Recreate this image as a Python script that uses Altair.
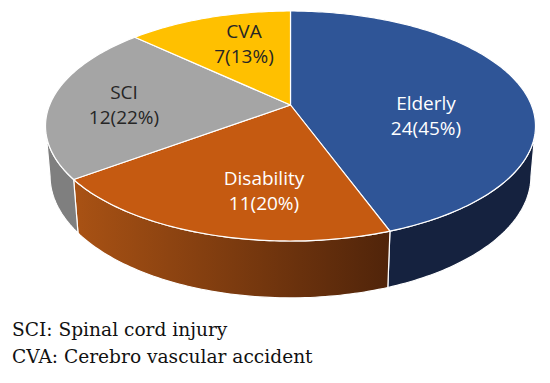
import numpy as np
import pandas as pd
import altair as alt

# ---------------- data ----------------
categories = ["Elderly", "Disability", "SCI", "CVA"]
counts = [24, 11, 12, 7]
percents = [45, 20, 22, 13]
notes = ["SCI: Spinal cord injury", "CVA: Cerebro vascular accident"]

# ---------------- style / layout ----------------
top_colors = ["#2F5597", "#C55A11", "#A5A5A5", "#FFC000"]
label_colors = ["#FFFFFF", "#FFFFFF", "#262626", "#262626"]
# position of the first label line (centre x, middle y)
label_pos = {"Elderly": (426, 104), "Disability": (264, 179),
             "SCI": (124, 93), "CVA": (244, 32)}
side_fill = {
    "Elderly": "#15223F",
    "Disability": alt.LinearGradient(
        gradient="linear", x1=0, x2=1, y1=0, y2=0,
        stops=[alt.GradientStop(offset=0, color="#A95214"),
               alt.GradientStop(offset=1, color="#50240A")]),
    "SCI": "#7F7F7F",
}
CX, CY = 290.5, 105.0   # projected centre of the pie top
FX, FY = 1319.0, 608.7  # perspective scale factors
DP = 5.476              # camera distance (in pie radii)
H = 274.0               # thickness factor
K = 0.1                 # depth shift of the bottom rim
W, HGT = 534, 367


def proj(t, bottom=False):
    u = np.sin(t)
    w = -np.cos(t)
    d = DP - w + (K if bottom else 0.0)
    x = CX + FX * u / d
    y = CY + FY * w / d + (H / d if bottom else 0.0)
    return x, y


total = sum(counts)
cum = np.cumsum([0] + counts)
starts = cum[:-1] / total * 2 * np.pi
ends = cum[1:] / total * 2 * np.pi
T_R = np.arccos(-1 / DP)
T_L = 2 * np.pi - T_R

top_rows, side_rows = [], []
for cat, a, b in zip(categories, starts, ends):
    n = max(2, int(np.degrees(b - a)) + 1)
    ts = np.linspace(a, b, n)
    xs, ys = proj(ts)
    pts = [(CX, CY)] + list(zip(xs, ys)) + [(CX, CY)]
    for i, (x, y) in enumerate(pts):
        top_rows.append(dict(cat=cat, i=i, x=x, y=y))
    lo, hi = max(a, T_R), min(b, T_L)
    if hi > lo:
        n = max(2, int(np.degrees(hi - lo)) + 1)
        ts = np.linspace(lo, hi, n)
        xt, yt = proj(ts)
        xb, yb = proj(ts[::-1], bottom=True)
        pts = list(zip(xt, yt)) + list(zip(xb, yb)) + [(xt[0], yt[0])]
        for i, (x, y) in enumerate(pts):
            side_rows.append(dict(cat=cat, i=i, x=x, y=y))

top_df = pd.DataFrame(top_rows)
side_df = pd.DataFrame(side_rows)

xs = alt.Scale(domain=[8, 8 + W], nice=False, zero=False)
ys = alt.Scale(domain=[8, 8 + HGT], nice=False, zero=False, reverse=True)
X = alt.X("x:Q", scale=xs, axis=None)
Y = alt.Y("y:Q", scale=ys, axis=None)

layers = []
for cat in categories:
    if cat not in side_fill:
        continue
    layers.append(
        alt.Chart(side_df[side_df.cat == cat])
        .mark_line(fill=side_fill[cat], stroke="#FFFFFF", strokeWidth=1.2,
                   strokeJoin="round")
        .encode(x=X, y=Y, order=alt.Order("i:Q"))
    )

top = (
    alt.Chart(top_df)
    .mark_line(stroke="#FFFFFF", strokeWidth=1.2, strokeJoin="round")
    .encode(
        x=X, y=Y, order=alt.Order("i:Q"), detail="cat:N",
        fill=alt.Fill("cat:N", scale=alt.Scale(domain=categories, range=top_colors),
                      legend=None),
    )
)
layers.append(top)

lab_df = pd.DataFrame({
    "cat": categories,
    "text": [f"{c}\n{n}({p}%)" for c, n, p in zip(categories, counts, percents)],
    "x": [label_pos[c][0] for c in categories],
    "y": [label_pos[c][1] for c in categories],
})
labels = (
    alt.Chart(lab_df)
    .mark_text(font="Open Sans", fontSize=19, lineBreak="\n", lineHeight=25,
               align="center", baseline="middle")
    .encode(x=X, y=Y, text="text:N",
            color=alt.Color("cat:N", scale=alt.Scale(domain=categories, range=label_colors),
                            legend=None))
)
layers.append(labels)

note_df = pd.DataFrame({"text": notes, "x": [12, 12], "y": [336, 363]})
note_layer = (
    alt.Chart(note_df)
    .mark_text(font="DejaVu Serif", fontSize=18.6, align="left",
               baseline="alphabetic", color="#111111")
    .encode(x=X, y=Y, text="text:N")
)
layers.append(note_layer)

chart = (
    alt.layer(*layers)
    .properties(width=W, height=HGT, padding=0, autosize="none")
    .configure_view(stroke=None)
)
chart.save("out.html", embed_options={"renderer": "svg", "actions": False})
